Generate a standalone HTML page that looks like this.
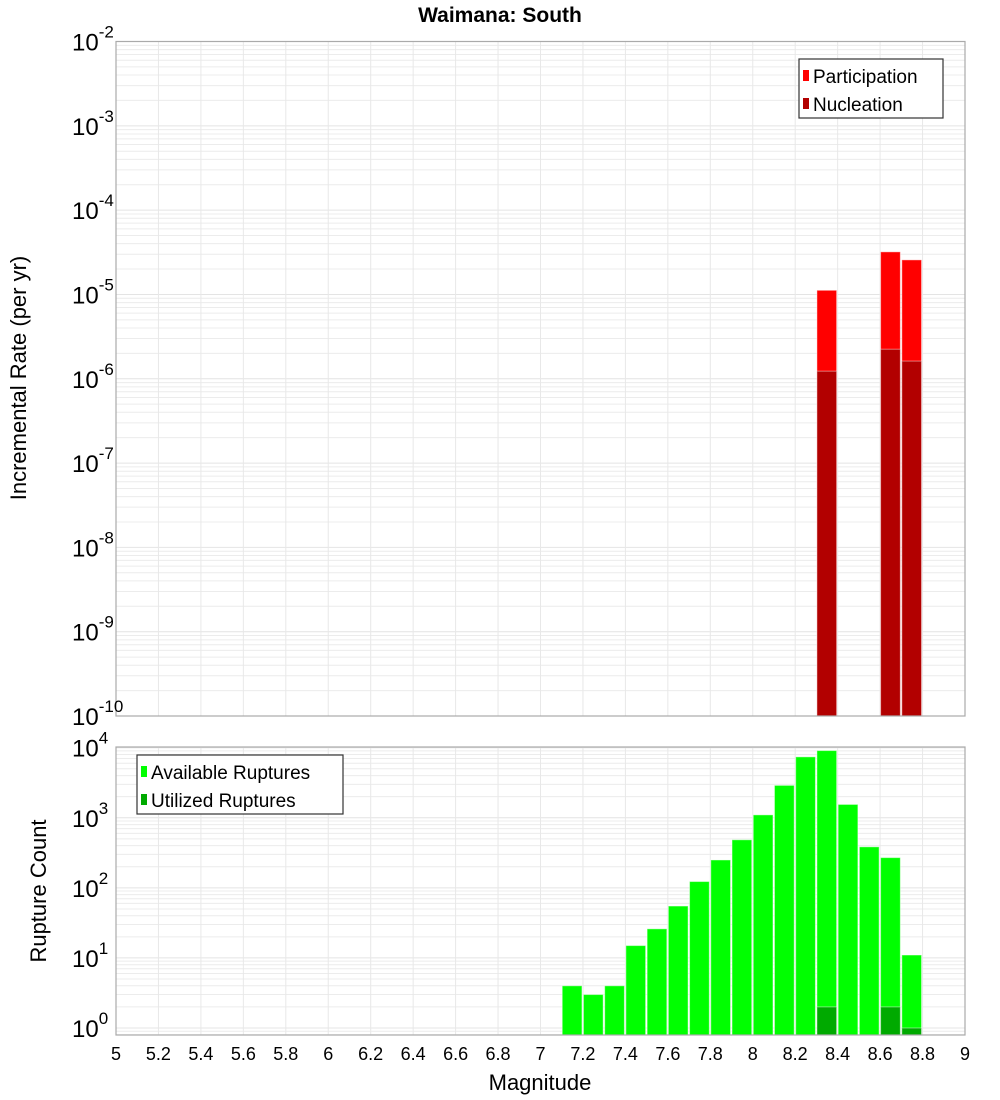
<!DOCTYPE html>
<html><head><meta charset="utf-8"><style>
html,body{margin:0;padding:0;background:#fff;}
svg{display:block;font-family:"Liberation Sans","DejaVu Sans",sans-serif;}
</style></head><body>
<svg id="c" width="1000" height="1100" xmlns="http://www.w3.org/2000/svg"></svg>
<script>
const NS='http://www.w3.org/2000/svg';
const topCenters=[8.35,8.65,8.75];
const participation=[1.12e-5,3.2e-5,2.57e-5];
const nucleation=[1.23e-6,2.24e-6,1.62e-6];
const botCenters=[7.15,7.25,7.35,7.45,7.55,7.65,7.75,7.85,7.95,8.05,8.15,8.25,8.35,8.45,8.55,8.65,8.75];
const available=[4,3,4,15,26,55,123,250,485,1100,2900,7400,9100,1550,385,270,11];
const utilCenters=[8.35,8.65,8.75];
const utilized=[2,2,1];
const xTicks=[5,5.2,5.4,5.6,5.8,6,6.2,6.4,6.6,6.8,7,7.2,7.4,7.6,7.8,8,8.2,8.4,8.6,8.8,9];
const topExps=[-2,-3,-4,-5,-6,-7,-8,-9,-10];
const botExps=[0,1,2,3,4];

const svg=document.getElementById('c');
function el(t,a,p){const e=document.createElementNS(NS,t);for(const k in a)e.setAttribute(k,a[k]);(p||svg).appendChild(e);return e;}
const X0=116,X1=965;
const xs=v=>X0+(v-5)/4*(X1-X0);
const T={top:41.5,bot:716,lmin:-10,lmax:-2};
const B={top:747,bot:1035,lmin:-0.1,lmax:4.01};
function ys(P,v){const l=Math.log10(v);return P.bot-(l-P.lmin)/(P.lmax-P.lmin)*(P.bot-P.top);}

function panel(P,name){
  const g=el('g',{});
  
  
  for(let d=Math.floor(P.lmin);d<=Math.ceil(P.lmax);d++){
    for(let m=1;m<10;m++){
      const y=ys(P,m*Math.pow(10,d));
      if(y<P.top-0.1||y>P.bot+0.1)continue;
      el('line',{x1:X0,x2:X1,y1:y,y2:y,stroke:m===1?'#e4e4e4':'#ececec','stroke-width':1},g);
    }
  }
  xTicks.forEach(t=>{const x=xs(t);el('line',{x1:x,x2:x,y1:P.top,y2:P.bot,stroke:'#e8e8e8','stroke-width':1},g);});
}
panel(T,'top');panel(B,'bottom');

function bar(P,c,v,fill,name){
  const x=xs(c-0.05)+0.5,w=xs(c+0.05)-xs(c-0.05)-1.5,y=Math.max(ys(P,v),P.top);
  const r=el('rect',{x:x,y:y,width:w,height:P.bot-y,fill:fill,stroke:'rgba(255,255,255,0.45)','stroke-width':1});
  
  
}
topCenters.forEach((c,i)=>bar(T,c,participation[i],'#ff0000','participation-bar'));
topCenters.forEach((c,i)=>bar(T,c,nucleation[i],'#b20000','nucleation-bar'));
botCenters.forEach((c,i)=>bar(B,c,available[i],'#00ff00','available-bar'));
utilCenters.forEach((c,i)=>bar(B,c,utilized[i],'#00aa00','utilized-bar'));

[T,B].forEach((P,k)=>{const f=el('rect',{x:X0,y:P.top,width:X1-X0,height:P.bot-P.top,fill:'none',stroke:'#aaa','stroke-width':1.2});
});

function ylab(P,e,name){
  const y=ys(P,Math.pow(10,e));
  const t=el('text',{x:72,y:y+9,'font-size':24,fill:'#000'});
  
  
  t.textContent='10';
  const s=el('tspan',{dy:-13,'font-size':17},t);s.textContent=String(e);
}
topExps.forEach(e=>ylab(T,e,'top-y-tick-label'));
botExps.forEach(e=>ylab(B,e,'bottom-y-tick-label'));

xTicks.forEach(t=>{const tx=el('text',{x:xs(t),y:1060,'font-size':18,'text-anchor':'middle',fill:'#000'});
tx.textContent=String(t);});

function txt(a,s,name){const t=el('text',a);t.textContent=s;return t;}
txt({x:500,y:22,'font-size':21,'font-weight':'bold','text-anchor':'middle'},'Waimana: South','chart-title');
txt({x:540,y:1090,'font-size':22,'text-anchor':'middle'},'Magnitude','x-axis-title');
txt({x:0,y:0,'font-size':22,'text-anchor':'middle',transform:'translate(26,378) rotate(-90)'},'Incremental Rate (per yr)','top-y-axis-title');
txt({x:0,y:0,'font-size':22,'text-anchor':'middle',transform:'translate(46,891) rotate(-90)'},'Rupture Count','bottom-y-axis-title');

function legend(x,y,w,h,items,name){
  const g=el('g',{});
  el('rect',{x:x,y:y,width:w,height:h,fill:'#fff',stroke:'#333','stroke-width':1.2},g);
  items.forEach((it,i)=>{const cy=y+17+i*28;
    el('rect',{x:x+4,y:cy-6,width:6,height:11,fill:it[1]},g);
    const t=el('text',{x:x+14,y:cy+7,'font-size':19},g);t.textContent=it[0];});
}
legend(799,59,144,59,[['Participation','#ff0000'],['Nucleation','#b20000']],'top-legend');
legend(137,755,206,59,[['Available Ruptures','#00ff00'],['Utilized Ruptures','#00aa00']],'bottom-legend');
</script>
</body></html>
